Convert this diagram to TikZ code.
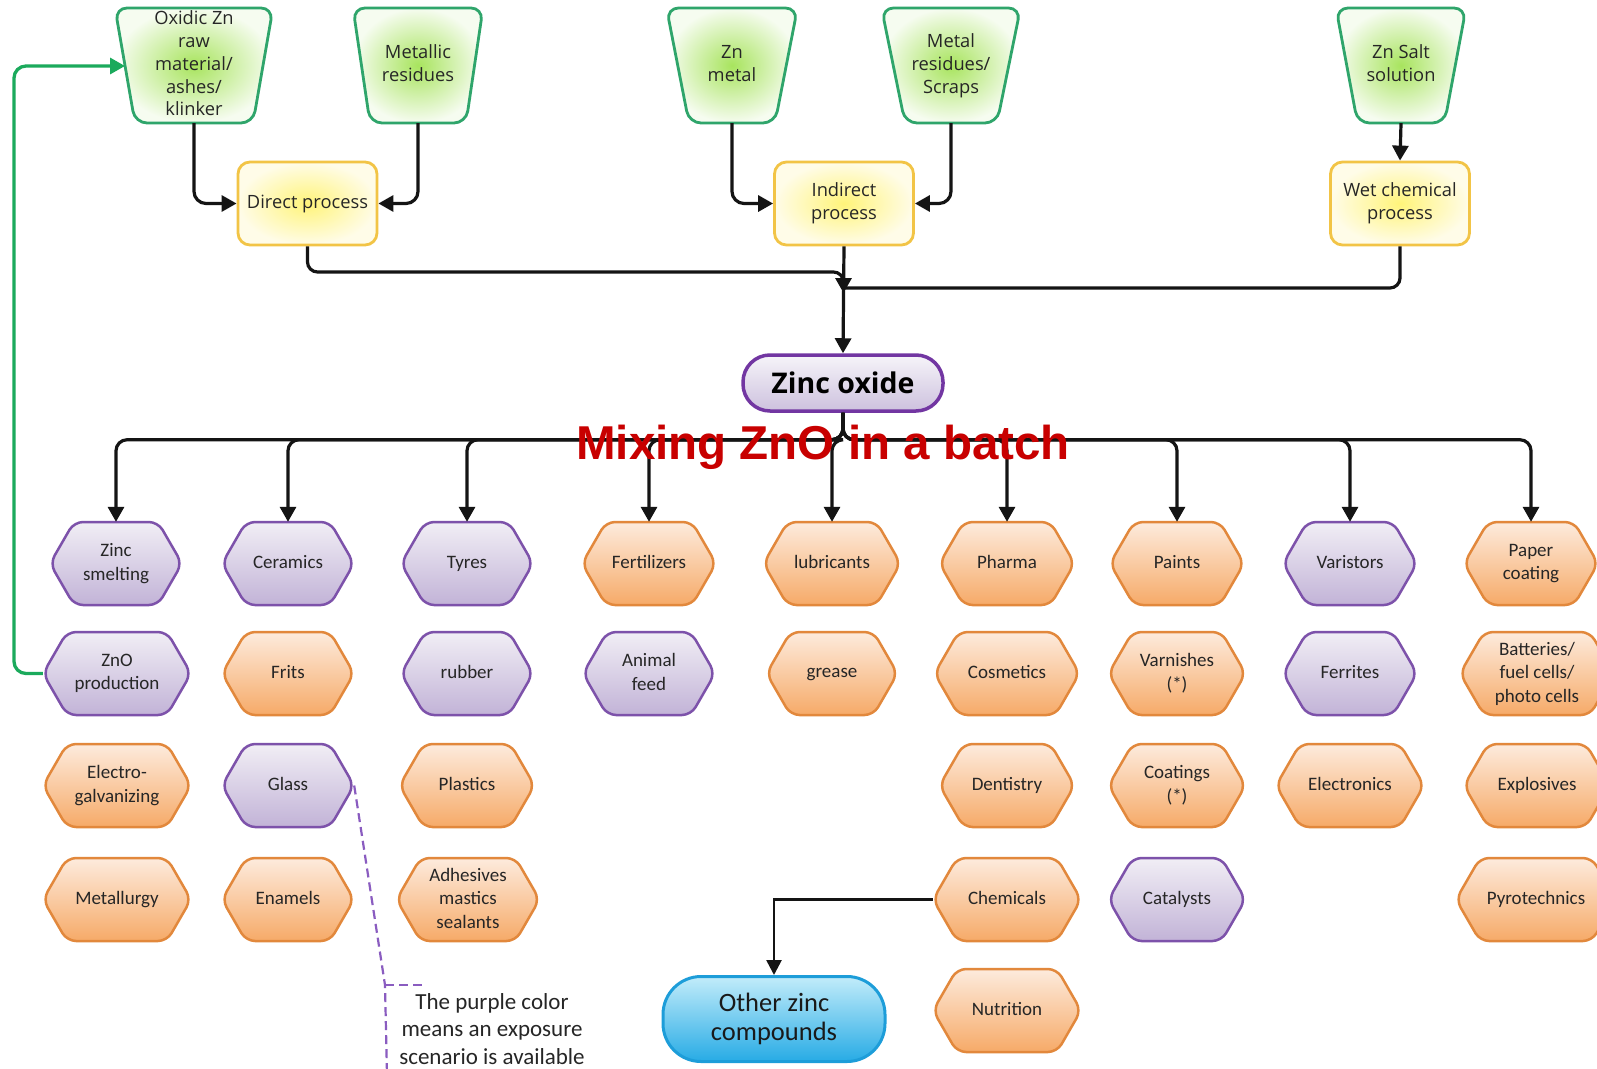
\documentclass[tikz,border=0pt]{standalone}
\usepackage{fontspec}
\setmainfont{Carlito}
\newfontfamily\topfont{Open Sans}
\newfontfamily\mixfont{Liberation Sans}
\usetikzlibrary{arrows.meta,calc}
\definecolor{purpB}{HTML}{7D52AA}
\definecolor{purpT}{HTML}{F1EEF5}
\definecolor{purpL}{HTML}{C2B3D7}
\definecolor{orngB}{HTML}{E2883C}
\definecolor{orngT}{HTML}{FDEBDD}
\definecolor{orngL}{HTML}{F6AA68}
\definecolor{grnB}{HTML}{2FA56B}
\definecolor{grnI}{HTML}{A8E45E}
\definecolor{grnO}{HTML}{F6FCF0}
\definecolor{ylwB}{HTML}{F2C446}
\definecolor{ylwI}{HTML}{FFF47A}
\definecolor{ylwO}{HTML}{FFFCE8}
\definecolor{znoB}{HTML}{7236A2}
\definecolor{znoT}{HTML}{F6F4F9}
\definecolor{znoL}{HTML}{CDC1DE}
\definecolor{bluB}{HTML}{1D9DD9}
\definecolor{bluT}{HTML}{C2ECFA}
\definecolor{bluL}{HTML}{27ABE5}
\definecolor{fbgreen}{HTML}{1BAA5C}
\definecolor{mixred}{HTML}{C80000}
\definecolor{txt}{HTML}{262626}
\definecolor{callp}{HTML}{8A5CC0}
\tikzset{
  purp/.style={draw=purpB, line width=2.5pt, top color=purpT, bottom color=purpL},
  orng/.style={draw=orngB, line width=2.5pt, top color=orngT, bottom color=orngL},
  hextext/.style={inner sep=0pt, minimum height=83pt, align=center,
    font=\fontsize{19}{23.5}\selectfont, text=txt},
  srcshape/.style={draw=grnB, line width=2.8pt, inner color=grnI, outer color=grnO, rounded corners=12pt},
  srctext/.style={inner sep=0pt, align=center, font=\topfont\fontsize{18.3}{22.8}\selectfont, text=txt},
  procbox/.style={draw=ylwB, line width=2.8pt, inner color=ylwI, outer color=ylwO,
    rounded corners=12pt, minimum width=139pt, minimum height=83pt, align=center, inner sep=0pt,
    font=\topfont\fontsize{18.3}{22.8}\selectfont, text=txt},
  conn/.style={draw=black!92, line width=3.2pt, -{Triangle[length=15pt,width=16pt]}},
  thinconn/.style={draw=black!92, line width=2.6pt, -{Triangle[length=15pt,width=15pt]}},
  joinline/.style={draw=black!92, line width=3.2pt},
  fbline/.style={draw=fbgreen, line width=3.3pt, rounded corners=12pt, -{Triangle[length=15pt,width=16pt]}},
  calloutline/.style={draw=callp, line width=2.2pt, dash pattern=on 9pt off 5pt},
}
\newcommand\hexa[6]{%
  \path[#5, rounded corners=9pt] (#2,{#3-41.5}) -- ({#2+#4/2-24},{#3-41.5}) -- ({#2+#4/2},#3)
    -- ({#2+#4/2-24},{#3+41.5}) -- ({#2-#4/2+24},{#3+41.5}) -- ({#2-#4/2},#3)
    -- ({#2-#4/2+24},{#3-41.5}) -- cycle;
  \node[hextext, minimum width=#4pt] (#1) at (#2,#3) {\vphantom{Ay}#6\vphantom{Ay}};
}
\newcommand\src[7]{%
  \path[srcshape] (#2,#3) -- ({#2+#5/2},#3) -- ({#2+#6/2},#4) -- ({#2-#6/2},#4) -- ({#2-#5/2},#3) -- cycle;
  \node[srctext, minimum width=#6pt, minimum height={(#4-#3)*1pt}] (#1) at (#2,{(#3+#4)/2}) {\vphantom{Ay}#7\vphantom{Ay}};
}
\begin{document}
\begin{tikzpicture}[x=1pt,y=-1pt]
\useasboundingbox (0,0) rectangle (1597,1068);
\clip (0,0) rectangle (1597,1068);
\fill[white] (0,0) rectangle (1597,1068);

% sources
\src{oxi}{194}{8}{123}{158}{118}{Oxidic Zn\\raw\\material/\\ashes/\\klinker}
\src{met}{418}{8}{123}{130}{96}{Metallic\\residues}
\src{znm}{732}{8}{123}{131}{86}{Zn\\metal}
\src{mrs}{951}{8}{123}{139}{92}{Metal\\residues/\\Scraps}
\src{zns}{1401}{8}{123}{130}{87}{Zn Salt\\solution}

% processes
\node[procbox] (dir) at (307.5,203.5) {Direct process};
\node[procbox] (ind) at (844,203.5) {Indirect\\process};
\node[procbox] (wet) at (1400,203.5) {Wet chemical\\process};

% zinc oxide
\node[draw=znoB, line width=3.5pt, top color=znoT, bottom color=znoL, rounded corners=27pt,
  minimum width=200pt, minimum height=56pt, inner sep=0pt,
  font=\topfont\bfseries\fontsize{28.5}{32}\selectfont, text=black] (zno) at (843,383) {Zinc oxide};

% hexagons row 1
\hexa{zs}{116}{563.5}{132}{purp}{Zinc\\smelting}
\hexa{cer}{288}{563.5}{132}{purp}{Ceramics}
\hexa{tyr}{467}{563.5}{132}{purp}{Tyres}
\hexa{fer}{649}{563.5}{134}{orng}{Fertilizers}
\hexa{lub}{832}{563.5}{137}{orng}{lubricants}
\hexa{pha}{1007}{563.5}{135}{orng}{Pharma}
\hexa{pai}{1177}{563.5}{134}{orng}{Paints}
\hexa{var}{1350}{563.5}{134}{purp}{Varistors}
\hexa{pap}{1531}{563.5}{134}{orng}{Paper\\coating}
% row 2
\hexa{znp}{117}{673.5}{148}{purp}{ZnO\\production}
\hexa{fri}{288}{673.5}{132}{orng}{Frits}
\hexa{rub}{467}{673.5}{132}{purp}{rubber}
\hexa{ani}{649}{673.5}{132}{purp}{Animal\\feed}
\hexa{gre}{832}{673.5}{131}{orng}{grease}
\hexa{cos}{1007}{673.5}{145}{orng}{Cosmetics}
\hexa{vrn}{1177}{673.5}{137}{orng}{Varnishes\\(*)}
\hexa{frr}{1350}{673.5}{134}{purp}{Ferrites}
\hexa{bat}{1537}{673.5}{154}{orng}{Batteries/\\fuel cells/\\photo cells}
% row 3
\hexa{ele}{117}{785.5}{148}{orng}{Electro-\\galvanizing}
\hexa{gla}{288}{785.5}{132}{purp}{Glass}
\hexa{pla}{467}{785.5}{135}{orng}{Plastics}
\hexa{den}{1007}{785.5}{135}{orng}{Dentistry}
\hexa{coa}{1177}{785.5}{137}{orng}{Coatings\\(*)}
\hexa{etr}{1350}{785.5}{148}{orng}{Electronics}
\hexa{exp}{1537}{785.5}{146}{orng}{Explosives}
% row 4
\hexa{mtl}{117}{899.5}{148}{orng}{Metallurgy}
\hexa{ena}{288}{899.5}{132}{orng}{Enamels}
\hexa{adh}{468}{899.5}{143}{orng}{Adhesives\\mastics\\sealants}
\hexa{che}{1007}{899.5}{148}{orng}{Chemicals}
\hexa{cat}{1177}{899.5}{137}{purp}{Catalysts}
\hexa{pyr}{1536}{899.5}{160}{orng}{Pyrotechnics}
% row 5
\hexa{nut}{1007}{1010.5}{148}{orng}{Nutrition}

% other zinc compounds
\node[draw=bluB, line width=3pt, top color=bluT, bottom color=bluL, rounded corners=38pt,
  minimum width=222pt, minimum height=85pt, inner sep=0pt, align=center,
  font=\fontsize{26.5}{28.5}\selectfont, text=black!90] (oth) at (774,1019) {Other zinc\\compounds};

% callout
\node[align=center, inner sep=0pt, font=\fontsize{23}{27.5}\selectfont, text=txt] (note) at (492,1029)
  {The purple color\\means an exposure\\scenario is available};
\coordinate (nc) at (385,985);
\coordinate (nb) at (387,1075);
\coordinate (ne) at (426,985);
\draw[calloutline] (gla.east) -- (nc) -- (nb);
\draw[calloutline] (nc) -- (ne);

% connectors top
\draw[conn, rounded corners=12pt] (oxi.south) |- (dir.west);
\draw[conn, rounded corners=12pt] (met.south) |- (dir.east);
\draw[conn, rounded corners=12pt] (znm.south) |- (ind.west);
\draw[conn, rounded corners=12pt] (mrs.south) |- (ind.east);
\draw[conn] (zns.south) -- (wet.north);
\coordinate (jn) at (843.5,293);
\draw[conn, rounded corners=10pt] (dir.south) |- (843.5,272) -- (jn);
\draw[joinline, rounded corners=10pt] (wet.south) |- (843.5,288);
\draw[conn] (ind.south) -- (zno.north);

% branches
\foreach \h in {zs,cer,tyr,fer,lub,pha,pai,var,pap}{
  \draw[conn, rounded corners=11pt] (zno.south) -- ++(0,27) -| (\h.north);
}

% feedback
\coordinate (fb) at (14,66);
\coordinate (oxin) at (125,66);
\draw[fbline] (znp.west) -| (fb) -- (oxin);

% chemicals to other
\draw[thinconn] (che.west) -| (oth.north);

% overlay text
\node[anchor=base, inner sep=0pt, text=mixred, font=\mixfont\bfseries\fontsize{47.5}{50}\selectfont] (mix) at (823,459) {Mixing ZnO in a batch};
\end{tikzpicture}
\end{document}
